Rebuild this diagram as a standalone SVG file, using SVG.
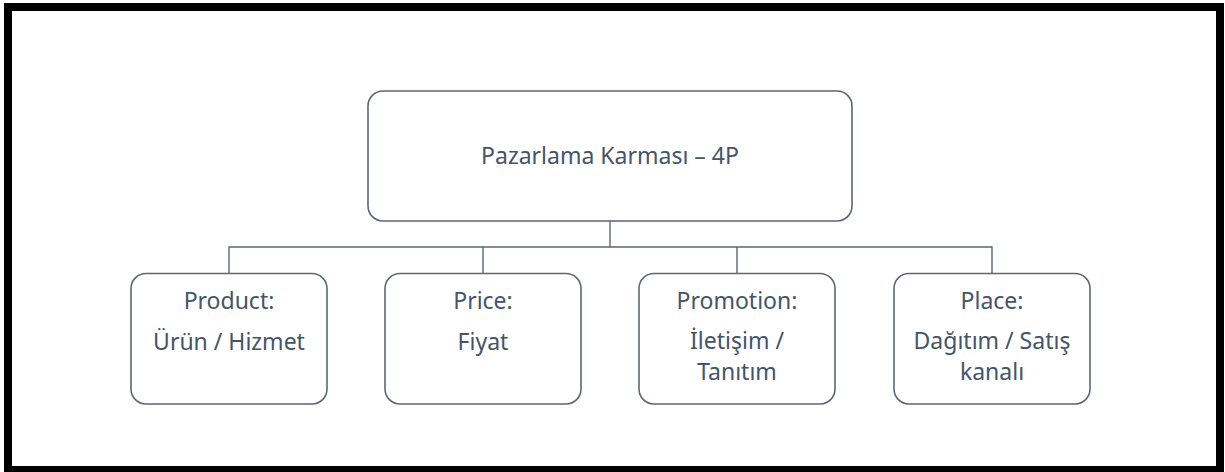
<svg xmlns="http://www.w3.org/2000/svg" width="1225" height="472" viewBox="0 0 1225 472">
<style>
.box{fill:#fff;stroke:#5B6679;stroke-width:1.6}
.t{font-family:"Noto Sans","Open Sans",sans-serif;font-size:23px;fill:#44546A;text-anchor:middle}
.c{fill:none;stroke:#5B6679;stroke-width:1.4}
</style>
<rect x="0" y="0" width="1225" height="472" fill="#fff"/>
<rect x="8" y="7" width="1212" height="463" fill="none" stroke="#000" stroke-width="8"/>
<g id="connectors">
<path class="c" d="M610 221V247M229 273V247H992V273M483 247V273M737 247V273"/>
</g>
<g id="root">
<rect class="box" x="368" y="91" width="484" height="130" rx="15"/>
<text class="t" x="610" y="163.5">Pazarlama Karması – 4P</text>
</g>
<g id="product">
<rect class="box" x="131" y="273.5" width="196" height="130.5" rx="15"/>
<text class="t" x="229" y="308.5">Product:</text>
<text class="t" x="229" y="349.5">Ürün / Hizmet</text>
</g>
<g id="price">
<rect class="box" x="385" y="273.5" width="196" height="130.5" rx="15"/>
<text class="t" x="483" y="308.5">Price:</text>
<text class="t" x="483" y="349.5">Fiyat</text>
</g>
<g id="promotion">
<rect class="box" x="639" y="273.5" width="196" height="130.5" rx="15"/>
<text class="t" x="737" y="308.5">Promotion:</text>
<text class="t" x="737" y="348.5">İletişim /</text>
<text class="t" x="737" y="380">Tanıtım</text>
</g>
<g id="place">
<rect class="box" x="894" y="273.5" width="196" height="130.5" rx="15"/>
<text class="t" x="992" y="308.5">Place:</text>
<text class="t" x="992" y="348.5">Dağıtım / Satış</text>
<text class="t" x="992" y="380">kanalı</text>
</g>
</svg>
